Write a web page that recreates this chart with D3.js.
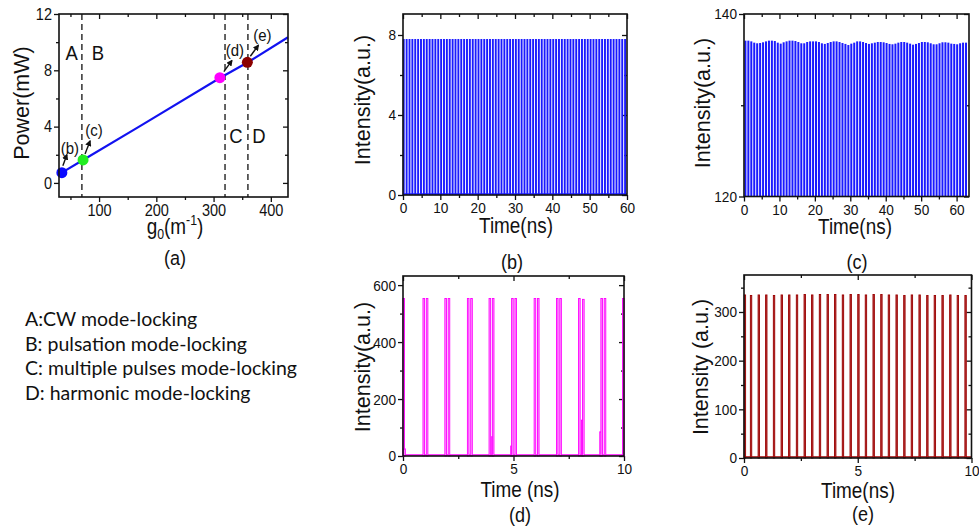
<!DOCTYPE html>
<html>
<head>
<meta charset="utf-8">
<script src="https://cdn.jsdelivr.net/npm/d3@7"></script>
<style>
  body { margin: 0; background: #fff; }
  svg text { font-family: "Liberation Sans", Arial, sans-serif; fill: #111; }
  .legend text { font-family: Lato, "Noto Sans", sans-serif; }
</style>
</head>
<body>
<svg id="fig" width="979" height="527"></svg>
<script>
'use strict';

// panel (a): output power vs small-signal gain
var gainLine = [[35, 0.73], [72, 1.63], [170, 4.0], [311, 7.45], [360, 8.57], [430, 10.35]];
var gainPoints = [
    {g: 35, p: 0.73, color: '#0a0aff', label: '(b)'},
    {g: 72, p: 1.63, color: '#22ee22', label: '(c)'},
    {g: 311, p: 7.48, color: '#ff00ff', label: '(d)'},
    {g: 359, p: 8.57, color: '#8b0000', label: '(e)'}
];
var regionBounds = [70, 320, 360];
var regionLetters = [
    {t: 'A', g: 52, p: 9.3}, {t: 'B', g: 98, p: 9.3},
    {t: 'C', g: 339, p: 3.4}, {t: 'D', g: 379, p: 3.4}
];

// panel (b): pulse train, 0-60 ns
var pulsesB = [0.20, 0.97, 1.74, 2.51, 3.28, 4.05, 4.82, 5.59, 6.36, 7.13,
    7.90, 8.67, 9.44, 10.21, 10.98, 11.75, 12.52, 13.29, 14.06, 14.83,
    15.60, 16.37, 17.14, 17.91, 18.68, 19.45, 20.22, 20.99, 21.76, 22.53,
    23.30, 24.07, 24.84, 25.61, 26.38, 27.15, 27.92, 28.69, 29.46, 30.23,
    31.00, 31.77, 32.54, 33.31, 34.08, 34.85, 35.62, 36.39, 37.16, 37.93,
    38.70, 39.47, 40.24, 41.01, 41.78, 42.55, 43.32, 44.09, 44.86, 45.63,
    46.40, 47.17, 47.94, 48.71, 49.48, 50.25, 51.02, 51.79, 52.56, 53.33,
    54.10, 54.87, 55.64, 56.41, 57.18, 57.95, 58.72, 59.49];
var peakB = 7.8;

// panel (c): pulse train with slow modulation of the peaks
var timesC = [0.40, 1.23, 2.06, 2.89, 3.72, 4.55, 5.38, 6.21, 7.04, 7.87,
    8.70, 9.53, 10.36, 11.19, 12.02, 12.85, 13.68, 14.51, 15.34, 16.17,
    17.00, 17.83, 18.66, 19.49, 20.32, 21.15, 21.98, 22.81, 23.64, 24.47,
    25.30, 26.13, 26.96, 27.79, 28.62, 29.45, 30.28, 31.11, 31.94, 32.77,
    33.60, 34.43, 35.26, 36.09, 36.92, 37.75, 38.58, 39.41, 40.24, 41.07,
    41.90, 42.73, 43.56, 44.39, 45.22, 46.05, 46.88, 47.71, 48.54, 49.37,
    50.20, 51.03, 51.86, 52.69, 53.52, 54.35, 55.18, 56.01, 56.84, 57.67,
    58.50, 59.33, 60.16, 60.99, 61.82, 62.65];
var peaksC = [137.08, 137.08, 137.0, 136.86, 136.79, 136.82, 136.9, 137.0, 137.08, 137.08,
    137.04, 136.86, 136.75, 136.9, 137.0, 137.08, 137.08, 137.04, 136.93, 136.79,
    136.79, 136.93, 137.0, 137.0, 137.0, 136.93, 136.79, 136.72, 136.82, 136.93,
    137.0, 137.0, 136.93, 136.82, 136.72, 136.6, 136.75, 136.86, 137.0, 137.0,
    136.93, 136.82, 136.72, 136.79, 136.86, 136.93, 136.93, 136.9, 136.82, 136.72,
    136.68, 136.75, 136.86, 136.93, 136.93, 136.86, 136.75, 136.64, 136.72, 136.82,
    136.93, 136.93, 136.9, 136.79, 136.68, 136.68, 136.79, 136.9, 136.9, 136.86,
    136.75, 136.72, 136.68, 136.79, 136.86, 136.86];

// panel (d): pulse pairs (multiple pulses)
var pulsesD = [[0.03, 553], [0.07, 25], [0.94, 553], [1.09, 553], [1.93, 553], [2.08, 553],
    [2.95, 553], [3.10, 553], [3.93, 553], [4.05, 68], [4.08, 553], [4.91, 35], [4.95, 553],
    [5.10, 553], [5.97, 553], [6.12, 553], [6.98, 553], [7.13, 553], [7.98, 553],
    [8.11, 126], [8.16, 550], [8.94, 85], [8.99, 553], [9.14, 553], [9.97, 553]];

// panel (e): harmonic mode-locking
var pulsesE = [[0.04, 335], [0.31, 334], [0.65, 335], [0.98, 335], [1.32, 334], [1.66, 335],
    [1.99, 335], [2.33, 335], [2.67, 336], [3.00, 335], [3.34, 336], [3.68, 336],
    [4.01, 336], [4.35, 335], [4.69, 336], [5.03, 336], [5.36, 335], [5.70, 336],
    [6.04, 336], [6.37, 335], [6.71, 335], [7.05, 334], [7.38, 335], [7.72, 335],
    [8.06, 334], [8.39, 334], [8.73, 334], [9.07, 335], [9.40, 334], [9.74, 334]];

var legendLines = ['A:CW mode-locking', 'B: pulsation mode-locking',
    'C: multiple pulses mode-locking', 'D: harmonic mode-locking'];

var svg = d3.select('#fig');
var SQUISH = 0.88;

function range(a, b, s) { return d3.range(a, b + s / 2, s); }

//frame, ticks, labels of one panel
function panel(c) {
    var g = svg.append('g');
    var x = d3.scaleLinear().domain(c.xd).range([c.x0, c.x1]);
    var y = d3.scaleLinear().domain(c.yd).range([c.y1, c.y0]);

    function axisSet(axisFn, scale, pos, maj, min, inward, labels) {
        var s = inward ? -1 : 1;
        g.append('g').attr('transform', pos)
            .call(axisFn(scale).tickValues(min).tickSize(3 * s).tickFormat(''))
            .call(function (a) { a.select('.domain').remove(); });
        var ax = g.append('g').attr('transform', pos)
            .call(axisFn(scale).tickValues(maj).tickSize(5 * s).tickPadding(2)
                .tickFormat(labels ? d3.format('') : ''));
        ax.select('.domain').remove();
        ax.selectAll('text').attr('class', 'sq').style('font-size', c.tickFont + 'px')
            .attr('fill', '#111');
        return ax;
    }
    axisSet(d3.axisBottom, x, 'translate(0,' + c.y1 + ')', c.xMaj, c.xMin, false, true);
    axisSet(d3.axisTop, x, 'translate(0,' + c.y0 + ')', c.xMaj, c.xMin, true, false);
    axisSet(d3.axisLeft, y, 'translate(' + c.x0 + ',0)', c.yMaj, c.yMin, false, true);
    axisSet(d3.axisRight, y, 'translate(' + c.x1 + ',0)', c.yMaj, c.yMin, true, false);
    g.selectAll('.tick line').attr('stroke', '#111').attr('stroke-width', 1.3);

    var plot = g.append('g');
    g.append('rect').attr('x', c.x0).attr('y', c.y0)
        .attr('width', c.x1 - c.x0).attr('height', c.y1 - c.y0)
        .attr('fill', 'none').attr('stroke', '#111').attr('stroke-width', 1.6);

    if (c.xTitle) {
        g.append('text').attr('class', 'sq').attr('text-anchor', 'middle')
            .attr('x', c.xt[0]).attr('y', c.xt[1]).style('font-size', '21.5px')
            .text(c.xTitle);
    }
    g.append('text').attr('text-anchor', 'middle')
        .attr('transform', 'translate(' + c.yt[0] + ',' + c.yt[1] + ') rotate(-90)')
        .style('font-size', '21.5px').attr('dy', '0.35em').text(c.yTitle);
    g.append('text').attr('class', 'sq').attr('text-anchor', 'middle')
        .attr('x', c.tag[0]).attr('y', c.tag[1]).style('font-size', '20.5px').text(c.tagText);

    return {g: g, plot: plot, x: x, y: y};
}

// ---- (a)
var pa = panel({x0: 59, x1: 288, y0: 14, y1: 197, xd: [30, 430], yd: [-1, 12],
    xMaj: [100, 200, 300, 400], xMin: [50, 150, 250, 350], yMaj: [0, 4, 8, 12], yMin: [2, 6, 10],
    tickFont: 16.5, xTitle: '', yTitle: 'Power(mW)', yt: [21, 103],
    tag: [175, 265], tagText: '(a)'});

var gt = pa.g.append('text').attr('class', 'sq').attr('text-anchor', 'middle')
    .attr('x', 175).attr('y', 234).style('font-size', '21.5px');
gt.append('tspan').text('g');
gt.append('tspan').attr('dy', 5).style('font-size', '14px').text('0');
gt.append('tspan').attr('dy', -5).text('(m');
gt.append('tspan').attr('dy', -9).style('font-size', '14px').text('-1');
gt.append('tspan').attr('dy', 9).text(')');

regionBounds.forEach(function (b) {
    pa.plot.append('line').attr('x1', pa.x(b)).attr('x2', pa.x(b))
        .attr('y1', pa.y(12)).attr('y2', pa.y(-1))
        .attr('stroke', '#111').attr('stroke-width', 1.3).attr('stroke-dasharray', '6,4');
});
regionLetters.forEach(function (r) {
    pa.plot.append('text').attr('class', 'sq').attr('text-anchor', 'middle')
        .attr('x', pa.x(r.g)).attr('y', pa.y(r.p)).attr('dy', '0.36em')
        .style('font-size', '21px').text(r.t);
});
pa.plot.append('path').datum(gainLine)
    .attr('d', d3.line().x(function (d) { return pa.x(d[0]); }).y(function (d) { return pa.y(d[1]); }))
    .attr('fill', 'none').attr('stroke', '#1212f0').attr('stroke-width', 2.2);

svg.append('defs').append('marker').attr('id', 'arr')
    .attr('viewBox', '0 0 10 10').attr('refX', 8).attr('refY', 5)
    .attr('markerWidth', 4.5).attr('markerHeight', 4.5).attr('orient', 'auto')
    .append('path').attr('d', 'M0,0L10,5L0,10z').attr('fill', '#111');

var arrowOffsets = [[[1, -7], [5, -18], [8, -25]], [[2, -6], [7, -19], [11, -30]],
    [[4, -6], [12, -17], [15, -28]], [[3, -6], [11, -17], [15, -27]]];
gainPoints.forEach(function (p, i) {
    var cx = pa.x(p.g), cy = pa.y(p.p), o = arrowOffsets[i];
    pa.plot.append('circle').attr('cx', cx).attr('cy', cy).attr('r', 5.5).attr('fill', p.color);
    pa.plot.append('line').attr('x1', cx + o[0][0]).attr('y1', cy + o[0][1])
        .attr('x2', cx + o[1][0]).attr('y2', cy + o[1][1])
        .attr('stroke', '#111').attr('stroke-width', 1.4).attr('marker-end', 'url(#arr)');
    pa.plot.append('text').attr('class', 'sq').attr('text-anchor', 'middle')
        .attr('x', cx + o[2][0]).attr('y', cy + o[2][1]).attr('dy', '0.35em')
        .style('font-size', '17px').text(p.label);
});

//draws pulses as thin bars from base up to their peak
function drawPulses(p, data, base, w, fill, stroke) {
    p.plot.selectAll(null).data(data).enter().append('rect')
        .attr('x', function (d) { return p.x(d[0]) - w / 2; })
        .attr('y', function (d) { return p.y(d[1]); })
        .attr('width', w)
        .attr('height', function (d) { return p.y(base) - p.y(d[1]); })
        .attr('fill', fill).attr('stroke', stroke || 'none').attr('stroke-width', 0.9);
}
function baseline(p, v, color) {
    var d = p.x.domain();
    p.plot.append('line').attr('x1', p.x(d[0])).attr('x2', p.x(d[1]))
        .attr('y1', p.y(v) - 1).attr('y2', p.y(v) - 1).attr('stroke', color).attr('stroke-width', 1.5);
}

// ---- (b)
var pb = panel({x0: 403, x1: 627, y0: 14, y1: 195, xd: [0, 60], yd: [0, 9.05],
    xMaj: range(0, 60, 10), xMin: range(5, 55, 10), yMaj: [0, 4, 8], yMin: [2, 6],
    tickFont: 15.5, xTitle: 'Time(ns)', yTitle: 'Intensity(a.u.)', xt: [516, 233], yt: [362, 100],
    tag: [512, 269], tagText: '(b)'});
drawPulses(pb, pulsesB.map(function (t) { return [t, peakB]; }), 0, 1.9, '#1a1aff');
baseline(pb, 0, '#1a1aff');

// ---- (c)
var pc = panel({x0: 744, x1: 969, y0: 14, y1: 196.5, xd: [0, 63.5], yd: [120, 140],
    xMaj: range(0, 60, 10), xMin: range(5, 55, 10), yMaj: [120, 140], yMin: [130],
    tickFont: 15.5, xTitle: 'Time(ns)', yTitle: 'Intensity(a.u.)', xt: [855, 234], yt: [702, 103],
    tag: [857, 269], tagText: '(c)'});
drawPulses(pc, timesC.map(function (t, i) { return [t, peaksC[i]]; }), 120, 2, '#1a1aff');

// ---- (d)
var pd = panel({x0: 403, x1: 624, y0: 276, y1: 456, xd: [0, 10], yd: [0, 632],
    xMaj: [0, 5, 10], xMin: [2.5, 7.5], yMaj: [0, 200, 400, 600], yMin: [100, 300, 500],
    tickFont: 15.5, xTitle: 'Time (ns)', yTitle: 'Intensity(a.u.)', xt: [520, 497], yt: [362, 367],
    tag: [520, 522], tagText: '(d)'});
baseline(pd, 0, '#ff00ff');
drawPulses(pd, pulsesD, 0, 1.6, '#ff9cff', '#ff00ff');

// ---- (e)
var pe = panel({x0: 744, x1: 971.5, y0: 275, y1: 458, xd: [0, 10], yd: [0, 376],
    xMaj: [0, 5, 10], xMin: [2.5, 7.5], yMaj: [0, 100, 200, 300], yMin: [50, 150, 250, 350],
    tickFont: 15.5, xTitle: 'Time(ns)', yTitle: 'Intensity (a.u.)', xt: [858, 498], yt: [700, 367],
    tag: [863, 521], tagText: '(e)'});
baseline(pe, 0, '#9a0000');
drawPulses(pe, pulsesE, 0, 1.4, '#b83a3a', '#9a0000');

// legend of regimes
svg.append('g').attr('class', 'legend').selectAll('text').data(legendLines).enter()
    .append('text').attr('x', 25).attr('y', function (d, i) { return 326 + i * 24.7; })
    .style('font-size', '19.5px').text(function (d) { return d; });

// horizontal compression of the original figure's lettering
svg.selectAll('text.sq').each(function () {
    var len = this.getComputedTextLength();
    if (len > 0) d3.select(this).attr('textLength', len * SQUISH).attr('lengthAdjust', 'spacingAndGlyphs');
});
</script>
</body>
</html>
